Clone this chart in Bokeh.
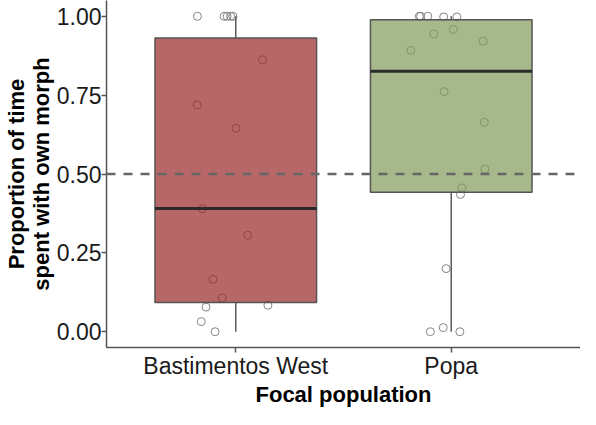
from bokeh.plotting import figure
from bokeh.models import FixedTicker, Span, Range1d, NumeralTickFormatter
from bokeh.embed import file_html
from bokeh.resources import INLINE

# ---- data ----
categories = ["Bastimentos West", "Popa"]
cat_pos = [1, 2]

# box statistics
box_q1 = [0.093, 0.442]
box_median = [0.391, 0.826]
box_q3 = [0.931, 0.989]
box_low = [0.0, 0.0]
box_high = [1.0, 1.0]

# individual observations and their horizontal jitter
bw_values = [1.00, 1.00, 1.00, 1.00, 1.00, 0.862, 0.719, 0.645, 0.390, 0.306,
             0.166, 0.107, 0.078, 0.084, 0.032, 0.00]
bw_jitter = [-0.178, -0.054, -0.040, -0.024, -0.013, 0.124, -0.179, 0.001, -0.154, 0.055,
             -0.106, -0.063, -0.138, 0.149, -0.160, -0.096]
popa_values = [1.00, 1.00, 1.00, 0.998, 0.998, 0.944, 0.958, 0.921, 0.892, 0.761,
               0.664, 0.516, 0.456, 0.435, 0.200, 0.00, 0.013, 0.00]
popa_jitter = [-0.148, -0.142, -0.109, -0.035, 0.026, -0.081, 0.010, 0.148, -0.187, -0.033,
               0.154, 0.156, 0.049, 0.043, -0.024, -0.097, -0.037, 0.040]

y_ticks = [0.0, 0.25, 0.5, 0.75, 1.0]
reference_level = 0.5
box_colors = ["#982627", "#819a58"]

FONT = "Liberation Sans"
half_w = 0.375

p = figure(width=580, height=409,
           x_range=Range1d(0.4, 2.6), y_range=Range1d(-0.05, 1.05),
           output_backend="svg", toolbar_location=None,
           min_border_top=0, min_border_right=0, min_border_left=0, min_border_bottom=0)
p.xgrid.visible = False
p.ygrid.visible = False
p.outline_line_color = None
p.background_fill_color = "white"
p.border_fill_color = "white"

# points (drawn first, boxes on top with transparency)
pts_x = [cat_pos[0] + j for j in bw_jitter] + [cat_pos[1] + j for j in popa_jitter]
pts_y = bw_values + popa_values
p.scatter(pts_x, pts_y, marker="circle", size=8, fill_color=None,
          line_color="#858585", line_width=1)

# whiskers
p.segment(x0=cat_pos, y0=box_q3, x1=cat_pos, y1=box_high, line_color="#5a5a5a", line_width=1.5)
p.segment(x0=cat_pos, y0=box_low, x1=cat_pos, y1=box_q1, line_color="#5a5a5a", line_width=1.5)

# boxes
p.quad(left=[c - half_w for c in cat_pos], right=[c + half_w for c in cat_pos],
       bottom=box_q1, top=box_q3, fill_color=box_colors, fill_alpha=0.7,
       line_color="#555555", line_width=1.5)

# medians
p.segment(x0=[c - half_w for c in cat_pos], y0=box_median,
          x1=[c + half_w for c in cat_pos], y1=box_median,
          line_color="#2a2a2a", line_width=3)

p.add_layout(Span(location=reference_level, dimension="width", line_dash="9 8",
                  line_color="#666666", line_width=2.5))

# axes
xa = p.xaxis[0]
xa.ticker = FixedTicker(ticks=cat_pos)
xa.major_label_overrides = {c: n for c, n in zip(cat_pos, categories)}
xa.minor_tick_line_color = None
xa.axis_label = "Focal population"

ya = p.yaxis[0]
ya.ticker = FixedTicker(ticks=y_ticks)
ya.formatter = NumeralTickFormatter(format="0.00")
ya.minor_tick_line_color = None
ya.axis_label = "Proportion of time\nspent with own morph"

for ax in (xa, ya):
    ax.axis_line_color = "#555555"
    ax.axis_line_width = 1.5
    ax.major_tick_line_color = "#555555"
    ax.major_tick_line_width = 1.5
    ax.major_tick_out = 5
    ax.major_tick_in = 0
    ax.major_label_text_font = FONT
    ax.major_label_text_font_size = "23px"
    ax.major_label_text_color = "#1a1a1a"
    ax.major_label_standoff = 0
    ax.axis_label_text_font = FONT
    ax.axis_label_text_font_size = "22px"
    ax.axis_label_text_font_style = "bold"
    ax.axis_label_text_color = "#000000"
    ax.axis_label_standoff = 0
ya.axis_label_text_line_height = 1.0

open("out.html", "w").write(file_html(p, INLINE))
